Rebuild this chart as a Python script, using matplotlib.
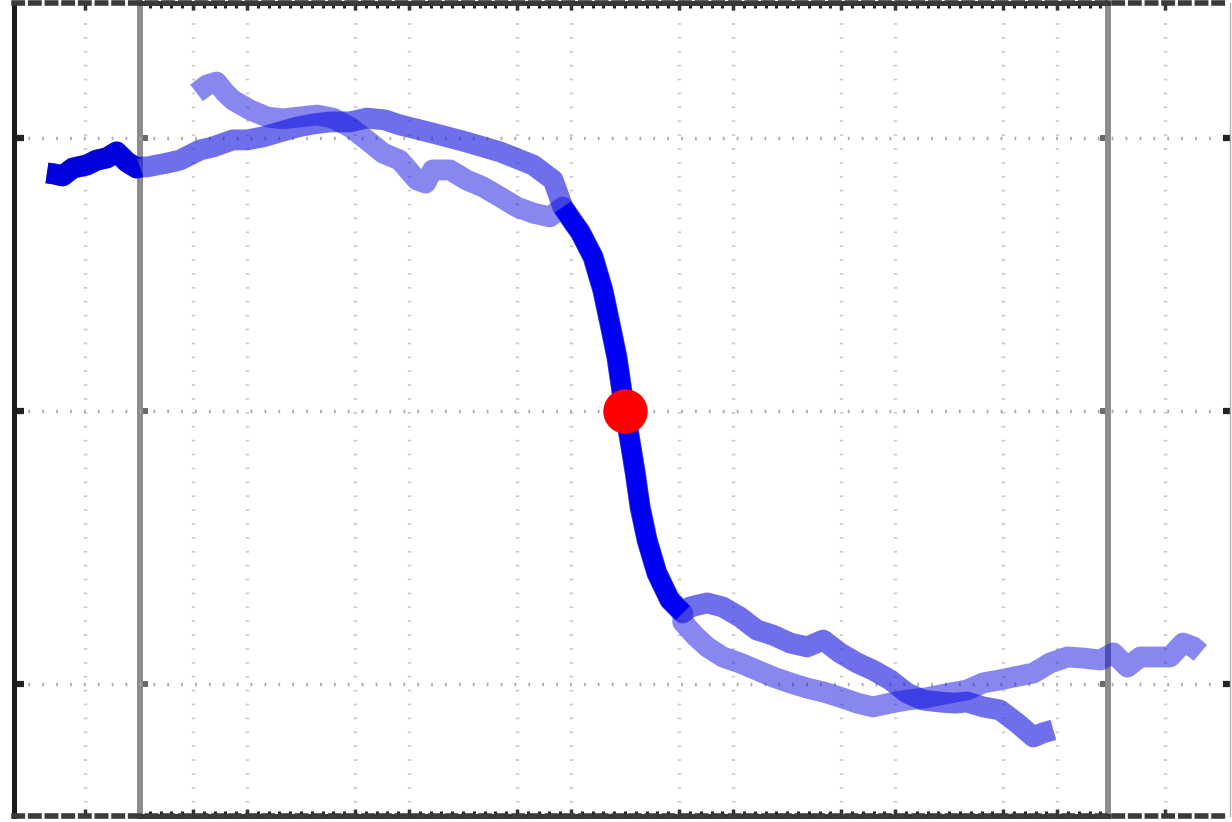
import numpy as np
from matplotlib import pyplot as plt
from matplotlib.ticker import MultipleLocator

# trajectory A (lighter blue): part before and after the shared fast drop
a_pre_x = [-7.93, -7.74, -7.56, -7.41, -7.26, -6.94, -6.63, -6.33, -6.02, -5.70, -5.41, -5.09,
           -4.78, -4.48, -4.17, -3.85, -3.69, -3.56, -3.24, -2.93, -2.63, -2.31, -2.00, -1.70, -1.39]
a_pre_y = [1.165, 1.194, 1.205, 1.168, 1.139, 1.103, 1.077, 1.070, 1.077, 1.084, 1.073, 1.040,
           0.993, 0.945, 0.919, 0.846, 0.835, 0.883, 0.883, 0.846, 0.821, 0.784, 0.747, 0.725, 0.711]
a_post_x = [1.07, 1.30, 1.52, 1.81, 2.13, 2.44, 2.74, 3.06, 3.37, 3.67, 3.98, 4.30, 4.59, 4.91,
            5.22, 5.56, 6.02, 6.33, 6.63, 6.94, 7.56, 7.87, 8.19, 8.48, 8.80, 9.04, 9.30, 9.54,
            9.85, 10.09, 10.33, 10.52, 10.65]
a_post_y = [-0.773, -0.824, -0.864, -0.901, -0.923, -0.949, -0.974, -0.996, -1.015, -1.029, -1.048,
            -1.070, -1.084, -1.070, -1.059, -1.051, -1.033, -1.022, -0.996, -0.985, -0.960, -0.923,
            -0.901, -0.905, -0.912, -0.886, -0.938, -0.901, -0.901, -0.901, -0.850, -0.864, -0.886]

# trajectory B (slightly darker blue)
b_pre_x = [-10.70, -10.56, -10.41, -10.22, -9.96, -9.78, -9.59, -9.41, -9.22, -9.04, -8.98,
           -8.85, -8.48, -8.24, -7.87, -7.63, -7.26, -7.00, -6.70, -6.39, -6.07, -5.78, -5.46,
           -5.09, -4.78, -4.44, -4.17, -3.56, -2.93, -2.31, -1.70, -1.33]
b_pre_y = [0.872, 0.868, 0.861, 0.890, 0.901, 0.919, 0.927, 0.949, 0.912, 0.890, 0.894,
           0.894, 0.908, 0.919, 0.956, 0.967, 0.993, 0.993, 1.004, 1.022, 1.040, 1.051, 1.059,
           1.059, 1.073, 1.066, 1.048, 1.018, 0.985, 0.949, 0.901, 0.846]
b_post_x = [1.20, 1.52, 1.81, 2.13, 2.44, 2.74, 3.06, 3.37, 3.67, 3.98, 4.30, 4.59, 4.91, 5.22,
            5.52, 5.83, 6.11, 6.33, 6.63, 6.94, 7.26, 7.56, 7.74, 7.93]
b_post_y = [-0.718, -0.703, -0.718, -0.755, -0.802, -0.821, -0.850, -0.864, -0.839, -0.886, -0.923,
            -0.949, -0.985, -1.033, -1.059, -1.066, -1.070, -1.066, -1.084, -1.095, -1.143, -1.194,
            -1.179, -1.168]

# shared transition segment and its midpoint
path_x = [-1.15, -0.96, -0.83, -0.59, -0.41, -0.28, -0.15, -0.06, 0.0, 0.09, 0.19, 0.28, 0.41, 0.59, 0.83, 1.07]
path_y = [0.747, 0.692, 0.656, 0.564, 0.443, 0.322, 0.198, 0.077, 0.0, -0.106, -0.227, -0.352, -0.473, -0.593, -0.692, -0.740]
mid_x = [0.0]
mid_y = [0.0]

grid_x = [-10, -8, -7, -5, -4, -2, -1, 1, 2, 4, 5, 7, 8, 10]
grid_y = [-1, 0, 1]

a_x = a_pre_x + path_x + a_post_x
a_y = a_pre_y + path_y + a_post_y
b_x = np.array(b_pre_x + path_x + b_post_x)
b_y = np.array(b_pre_y + path_y + b_post_y)

inner_xlim = (-8.98, 8.94)
outer_xlim = (-11.31, 11.20)
ylim = (-1.4835, 1.4945)

fig = plt.figure(figsize=(12.32, 8.22), dpi=100)

# inner frame (grey verticals)
inner = fig.add_axes([140 / 1232, 6 / 822, 968 / 1232, 813 / 822], zorder=0)
inner.set_xlim(inner_xlim)
inner.set_ylim(ylim)
inner.set_yticks(grid_y)
inner.set_xticks([])
inner.xaxis.set_minor_locator(MultipleLocator(0.2))
inner.tick_params(axis='y', direction='in', left=True, right=True, length=5.5, width=4.3,
                  color='#6a6a6a', labelleft=False)
inner.tick_params(axis='x', which='minor', direction='in', top=True, bottom=True, length=3.5,
                  width=2.2, color='#222222')
for side in ['left', 'right']:
    inner.spines[side].set_color('#8c8c8c')
    inner.spines[side].set_linewidth(4.3)
for side in ['top', 'bottom']:
    inner.spines[side].set_color('#333333')
    inner.spines[side].set_linewidth(3.5)

# outer frame with grid and data
ax = fig.add_axes([14 / 1232, 6 / 822, 1216 / 1232, 813 / 822], zorder=1)
ax.patch.set_alpha(0)
ax.set_xlim(outer_xlim)
ax.set_ylim(ylim)
ax.set_xticks(grid_x)
ax.set_yticks(grid_y)
ax.set_axisbelow(True)
ax.grid(axis='x', color='#cccccc', linewidth=2.5, linestyle=(0, (0.5, 3.5)))
ax.grid(axis='y', color='#aaaaaa', linewidth=2.5, linestyle=(0, (0.5, 3.5)))
ax.tick_params(axis='x', direction='in', top=True, bottom=True, length=5, width=2.5,
               color='#333333', labelbottom=False)
ax.tick_params(axis='y', direction='in', left=True, right=True, length=7, width=4.5,
               color='#222222', labelleft=False)
for t in ax.yaxis.get_major_ticks():
    t.tick2line.set_color('#8a8a8a')
    t.tick2line.set_markersize(5)
ax.spines['left'].set_color('#1a1a1a')
ax.spines['left'].set_linewidth(3.6)
ax.spines['right'].set_color('#b0b0b0')
ax.spines['right'].set_linewidth(1)
for side in ['top', 'bottom']:
    ax.spines[side].set_color('#3a3a3a')
    ax.spines[side].set_linewidth(4)
    ax.spines[side].set_linestyle((0, (1.5, 1.5)))

lw = 15
ax.plot(a_x, a_y, color='#1010e0', alpha=0.5, lw=lw, solid_joinstyle='round', solid_capstyle='butt')
ax.plot(b_x, b_y, color='#1010e0', alpha=0.6, lw=lw, solid_joinstyle='round', solid_capstyle='butt')
lead = b_x <= inner_xlim[0] + 0.01
ax.plot(b_x[lead], b_y[lead], color='#0000dc', lw=lw, solid_joinstyle='round', solid_capstyle='butt')
ax.plot(path_x, path_y, color='#0000f2', lw=14, solid_joinstyle='round', solid_capstyle='butt')
ax.plot(mid_x, mid_y, 'o', color='#ff0000', markersize=32, markeredgewidth=0)

fig.savefig('out.png', dpi=100)
